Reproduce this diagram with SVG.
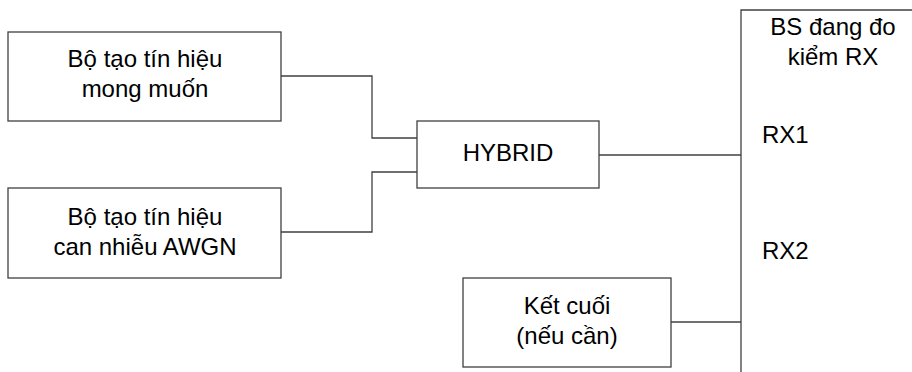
<svg xmlns="http://www.w3.org/2000/svg" width="912" height="372" viewBox="0 0 912 372">
<style>
.box{fill:#fff;stroke:#404040;stroke-width:1.3}
.ln{fill:none;stroke:#404040;stroke-width:1.3}
text{font-family:"Liberation Sans",Arial,sans-serif;font-size:24px;fill:#000}
.c{text-anchor:middle}
</style>
<rect width="912" height="372" fill="#fff"/>
<g id="connectors">
<polyline class="ln" points="281,76 372,76 372,138 417,138"/>
<polyline class="ln" points="281,232 372,232 372,172 417,172"/>
<line class="ln" x1="599" y1="155" x2="741" y2="155"/>
<line class="ln" x1="671" y1="322" x2="741" y2="322"/>
</g>
<g id="gen1">
<rect class="box" x="8" y="32" width="273" height="89"/>
<text class="c" x="145" y="67">Bộ tạo tín hiệu</text>
<text class="c" x="145" y="97">mong muốn</text>
</g>
<g id="gen2">
<rect class="box" x="8" y="188" width="273" height="90"/>
<text class="c" x="145" y="225">Bộ tạo tín hiệu</text>
<text class="c" x="145" y="255">can nhiễu AWGN</text>
</g>
<g id="hybrid">
<rect class="box" x="417" y="121" width="182" height="67"/>
<text class="c" x="508" y="161">HYBRID</text>
</g>
<g id="term">
<rect class="box" x="463" y="278" width="208" height="89"/>
<text class="c" x="567" y="314">Kết cuối</text>
<text class="c" x="567" y="344">(nếu cần)</text>
</g>
<g id="bs">
<polyline class="ln" points="912,10 741,10 741,372"/>
<text class="c" x="833" y="35">BS đang đo</text>
<text class="c" x="833" y="65">kiểm RX</text>
<text x="762" y="143">RX1</text>
<text x="762" y="259">RX2</text>
</g>
</svg>
